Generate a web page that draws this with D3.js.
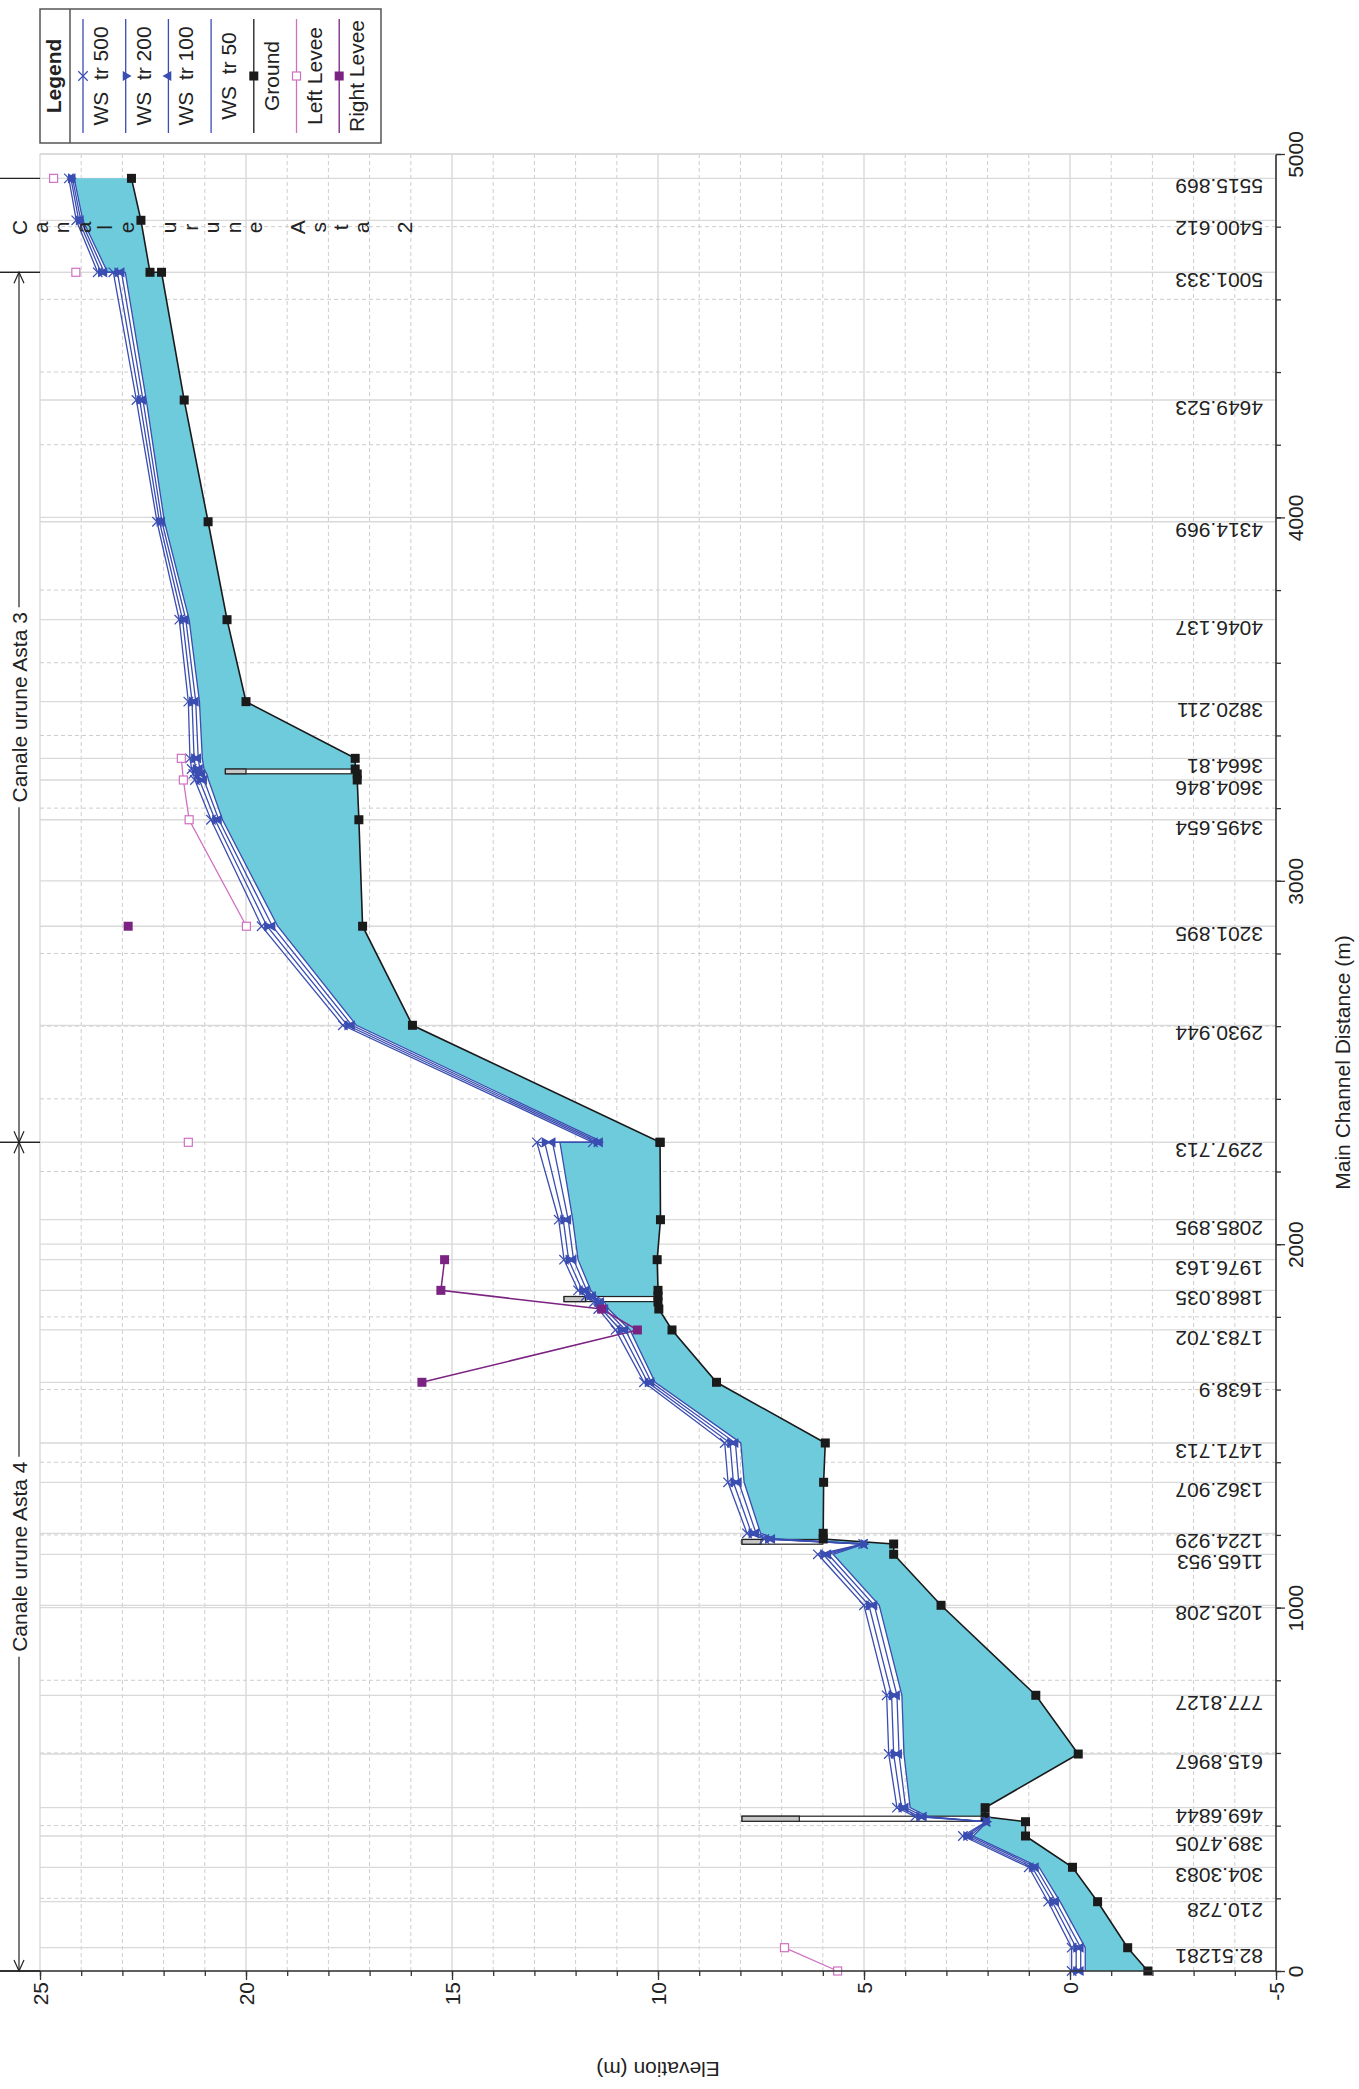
<!DOCTYPE html>
<html><head><meta charset="utf-8">
<script src="https://cdn.jsdelivr.net/npm/d3@7"></script>
<style>
body{margin:0;background:#fff}
svg{display:block}
text{font-family:"Liberation Sans",Arial,Helvetica,sans-serif;fill:#222}
</style>
</head><body>
<svg id="c" width="1359" height="2089"></svg>
<script>
// ---------------- DATA ----------------
// cross sections, upstream (top) to downstream (bottom); "br" = bridge internal section
const xsStation = ["5515.869","5400.612","5001.333","5001.333","4649.523","4314.969","4046.137","3820.211","3664.81","","","3604.846","3495.654","3201.895","2930.944","2297.713","2297.713","2085.895","1976.163","1868.035","","","","1783.702","1638.9","1471.713","1362.907","1224.929","","","1165.953","1025.208","777.8127","615.8967","469.6844","","","389.4705","304.3083","210.728","82.51281",""];
const xsKind = ["xs","xs","xs","xs","xs","xs","xs","xs","xs","br","br","xs","xs","xs","xs","xs","xs","xs","xs","xs","br","br","xs","xs","xs","xs","xs","xs","br","br","xs","xs","xs","xs","xs","br","br","xs","xs","xs","xs","xs"];
const xsDist = [4933,4817.6,4674.5,4674.5,4323,3988,3718.5,3493,3337,3307.6,3294,3277.4,3168,2875,2602.4,2280.4,2280.4,2067.4,1957.4,1873,1857.5,1841,1821.7,1764,1620,1453,1344.8,1204.5,1188.8,1175,1146.7,1006.3,758.7,597.1,449.4,424.6,410.8,371.5,285.4,190.7,64.1,0];
const ground = [22.78,22.55,22.33,22.05,21.5,20.92,20.46,20.0,17.35,17.35,17.3,17.3,17.26,17.17,15.96,9.95,9.95,9.94,10.02,10.0,10.0,10.0,9.98,9.66,8.58,5.94,5.98,5.99,5.99,4.28,4.28,3.13,0.83,-0.2,2.06,2.06,1.08,1.08,-0.06,-0.67,-1.4,-1.89];
const ws500 = [24.30,24.12,23.60,23.22,22.66,22.16,21.62,21.40,21.36,21.32,21.28,21.24,20.85,19.62,17.65,11.58,12.94,12.41,12.28,11.94,11.75,11.55,11.45,11.03,10.34,8.38,8.30,7.84,7.42,5.02,6.12,5.00,4.45,4.40,4.20,3.76,2.04,2.60,1.00,0.53,-0.04,-0.04];
const ws200 = [24.25,24.06,23.52,23.12,22.58,22.10,21.54,21.31,21.26,21.22,21.17,21.13,20.75,19.49,17.54,11.49,12.75,12.30,12.17,11.84,11.67,11.47,11.37,10.91,10.25,8.25,8.17,7.73,7.33,5.01,5.99,4.88,4.33,4.28,4.09,3.66,2.03,2.52,0.92,0.43,-0.15,-0.15];
const ws100 = [24.21,24.01,23.44,23.02,22.50,22.04,21.46,21.22,21.16,21.12,21.06,21.02,20.66,19.36,17.43,11.41,12.56,12.18,12.05,11.73,11.58,11.38,11.28,10.79,10.16,8.12,8.04,7.62,7.23,5.00,5.87,4.75,4.20,4.15,3.99,3.55,2.02,2.43,0.83,0.34,-0.26,-0.26];
const ws50  = [24.17,23.96,23.36,22.93,22.42,21.98,21.38,21.13,21.06,21.02,20.95,20.91,20.57,19.23,17.32,11.33,12.38,12.07,11.94,11.63,11.50,11.30,11.20,10.68,10.07,7.99,7.91,7.51,7.14,4.99,5.75,4.63,4.08,4.03,3.88,3.45,2.01,2.35,0.75,0.24,-0.37,-0.37];
const leftLevee  = [24.67,null,24.13,null,null,null,null,null,21.57,null,null,21.52,21.38,19.99,null,null,21.4,null,null,null,null,null,null,null,null,null,null,null,null,null,null,null,null,null,null,null,null,null,null,null,6.93,5.64];
const rightLevee = [null,null,null,null,null,null,null,null,null,null,null,null,null,22.86,null,null,null,null,15.18,15.27,null,null,11.37,10.5,15.73,null,null,null,null,null,null,null,null,null,null,null,null,null,null,null,null,null];
// bridges
const bridgeDist   = [3301,1849,1181,419];
const bridgeWidth  = [13,14,13,14];
const bridgeHigh   = [20.5,12.28,7.96,7.96];
const bridgeLow    = [20.0,11.76,7.5,6.57];
const bridgeGround = [17.35,9.98,6.0,2.06];
// reaches
const reachNames  = ["Canale urune Asta 2","Canale urune Asta 3","Canale urune Asta 4"];
const reachTop    = [4933,4674.5,2280.4];
const reachBottom = [4674.5,2280.4,0];
// axes
const elevTicks = [25,20,15,10,5,0,-5];
const distTicks = [0,1000,2000,3000,4000,5000];
// legend
const legendNames = ["WS  tr 500","WS  tr 200","WS  tr 100","WS  tr 50","Ground","Left Levee","Right Levee"];

// ---------------- LAYOUT ----------------
const svg = d3.select("#c");
const L = 40, R = 1276, T = 154, B = 1971;
const xS = d3.scaleLinear().domain([25,-5]).range([L,R]);
const yS = d3.scaleLinear().domain([0,5000]).range([B,T]);
const WS_COL = "#3a4db1", FILL = "#6dcbdc", GRID = "#d9d9d9", DASH = "#cdcdcd";
const LL_COL = "#d070c2", RL_COL = "#7b2382";

const n = xsDist.length;
const idx = d3.range(n);

// grid
const g = svg.append("g");
d3.range(-5,26,1).forEach(e=>{
  g.append("line").attr("x1",xS(e)).attr("x2",xS(e)).attr("y1",T).attr("y2",B)
   .attr("stroke", e%5===0 ? GRID : DASH).attr("stroke-width", e%5===0?1.4:1)
   .attr("stroke-dasharray", e%5===0 ? null : "4,3");
});
d3.range(0,5001,200).forEach(d=>{
  g.append("line").attr("x1",L).attr("x2",R).attr("y1",yS(d)).attr("y2",yS(d))
   .attr("stroke", d%1000===0 ? GRID : DASH).attr("stroke-width", d%1000===0?1.3:1)
   .attr("stroke-dasharray", d%1000===0 ? null : "4,3");
});
// station lines
idx.filter(i=>xsStation[i]!=="" ).forEach(i=>{
  g.append("line").attr("x1",L).attr("x2",R).attr("y1",yS(xsDist[i])).attr("y2",yS(xsDist[i]))
   .attr("stroke",GRID).attr("stroke-width",1.3);
});

// water fill
const area = d3.area().y(i=>yS(xsDist[i])).x0(i=>xS(ground[i])).x1(i=>xS(ws50[i]));
svg.append("path").datum(idx).attr("d",area).attr("fill",FILL);

// bridges
bridgeDist.forEach((d,k)=>{
  const y0 = yS(d + bridgeWidth[k]/2), y1 = yS(d - bridgeWidth[k]/2);
  svg.append("rect").attr("x",xS(bridgeHigh[k])).attr("y",y0)
    .attr("width",xS(bridgeGround[k])-xS(bridgeHigh[k])).attr("height",y1-y0)
    .attr("fill","#fff").attr("stroke","#222").attr("stroke-width",1.2);
  svg.append("rect").attr("x",xS(bridgeHigh[k])).attr("y",y0)
    .attr("width",xS(bridgeLow[k])-xS(bridgeHigh[k])).attr("height",y1-y0)
    .attr("fill","#c8c8c8").attr("stroke","#222").attr("stroke-width",1.2);
});

// lines
const lineOf = arr => d3.line().x(i=>xS(arr[i])).y(i=>yS(xsDist[i]));
[ws50,ws100,ws200,ws500].forEach(arr=>{
  svg.append("path").datum(idx).attr("d",lineOf(arr)).attr("fill","none")
    .attr("stroke",WS_COL).attr("stroke-width",1.3);
});
svg.append("path").datum(idx).attr("d",lineOf(ground)).attr("fill","none")
  .attr("stroke","#1a1a1a").attr("stroke-width",1.6);

// levees
const xsOnly = idx.filter(i=>xsKind[i]==="xs");
const levLine = arr => d3.line().defined(i=>arr[i]!==null).x(i=>xS(arr[i])).y(i=>yS(xsDist[i]));
svg.append("path").datum(xsOnly).attr("d",levLine(leftLevee)).attr("fill","none").attr("stroke",LL_COL).attr("stroke-width",1.3);
svg.append("path").datum(xsOnly).attr("d",levLine(rightLevee)).attr("fill","none").attr("stroke",RL_COL).attr("stroke-width",1.5);

// markers
const symX = d3.symbol().type(d3.symbolTimes).size(60);
const symT = d3.symbol().type(d3.symbolTriangle).size(45);
const mk = svg.append("g");
idx.forEach(i=>{
  const y = yS(xsDist[i]);
  mk.append("path").attr("d",symT()).attr("transform",`translate(${xS(ws100[i])},${y}) rotate(-90)`).attr("fill",WS_COL);
  mk.append("path").attr("d",symT()).attr("transform",`translate(${xS(ws200[i])},${y}) rotate(90)`).attr("fill",WS_COL);
  mk.append("path").attr("d",symX()).attr("transform",`translate(${xS(ws500[i])},${y})`).attr("fill","none").attr("stroke",WS_COL).attr("stroke-width",1.2);
  mk.append("rect").attr("x",xS(ground[i])-4.5).attr("y",y-4.5).attr("width",9).attr("height",9).attr("fill","#1a1a1a");
});
xsOnly.forEach(i=>{
  const y = yS(xsDist[i]);
  if(leftLevee[i]!==null) mk.append("rect").attr("x",xS(leftLevee[i])-4).attr("y",y-4).attr("width",8).attr("height",8).attr("fill","#fff").attr("stroke",LL_COL).attr("stroke-width",1.2);
  if(rightLevee[i]!==null) mk.append("rect").attr("x",xS(rightLevee[i])-4.5).attr("y",y-4.5).attr("width",9).attr("height",9).attr("fill",RL_COL);
});

// station labels
idx.filter(i=>xsStation[i]!=="" && !(i>0 && xsStation[i]===xsStation[i-1])).forEach(i=>{
  svg.append("text").attr("transform",`translate(1263,${yS(xsDist[i])+1}) rotate(180)`)
    .attr("text-anchor","start").attr("font-size",21).text(xsStation[i]);
});

// axes
const fmt = d => String(d);
const axD = svg.append("g").attr("transform",`translate(${R},0)`)
  .call(d3.axisRight(yS).tickValues(d3.range(0,5001,200)).tickSize(5).tickFormat(""));
const axDM = svg.append("g").attr("transform",`translate(${R},0)`)
  .call(d3.axisRight(yS).tickValues(distTicks).tickSize(9).tickFormat(fmt));
axDM.selectAll("text").attr("transform","rotate(-90)").attr("x",0).attr("y",27).attr("dy",0)
  .attr("text-anchor","middle").attr("font-size",21).attr("font-family",null);
const axE = svg.append("g").attr("transform",`translate(0,${B})`)
  .call(d3.axisBottom(xS).tickValues(d3.range(-5,26,1)).tickSize(5).tickFormat(""));
const axEM = svg.append("g").attr("transform",`translate(0,${B})`)
  .call(d3.axisBottom(xS).tickValues(elevTicks).tickSize(9).tickFormat(fmt));
axEM.selectAll("text").attr("transform","rotate(-90)").attr("x",-11).attr("y",7.5).attr("dy",0)
  .attr("text-anchor","end").attr("font-size",21).attr("font-family",null);
[axD,axDM,axE,axEM].forEach(a=>{
  a.selectAll(".tick line").attr("stroke","#333").attr("stroke-width",1.3);
  a.selectAll("text").style("fill","#222");
  a.select(".domain").remove();
});
svg.append("line").attr("x1",R).attr("x2",R).attr("y1",T).attr("y2",B).attr("stroke","#333").attr("stroke-width",1.6);
svg.append("line").attr("x1",0).attr("x2",R).attr("y1",B).attr("y2",B).attr("stroke","#333").attr("stroke-width",1.6);
svg.append("line").attr("x1",L).attr("x2",R).attr("y1",T).attr("y2",T).attr("stroke",GRID).attr("stroke-width",1.4);

// axis titles
svg.append("text").attr("transform",`translate(${(L+R)/2},2062) rotate(180)`).attr("text-anchor","middle").attr("font-size",21).text("Elevation (m)");
svg.append("text").attr("transform",`translate(1350,${(T+B)/2}) rotate(-90)`).attr("text-anchor","middle").attr("font-size",21).text("Main Channel Distance (m)");

// reach annotations
const RX = 19;
const arrow = (y,dir)=>{ // dir: -1 up, +1 down (tip at y)
  svg.append("path").attr("d",`M${RX-5},${y-dir*11} L${RX},${y} L${RX+5},${y-dir*11}`)
    .attr("fill","none").attr("stroke","#222").attr("stroke-width",1.2);
};
reachNames.forEach((name,k)=>{
  const yt = yS(reachTop[k]), yb = yS(reachBottom[k]);
  svg.append("line").attr("x1",0).attr("x2",L).attr("y1",yt).attr("y2",yt).attr("stroke","#222").attr("stroke-width",1.3);
  svg.append("line").attr("x1",0).attr("x2",L).attr("y1",yb).attr("y2",yb).attr("stroke","#222").attr("stroke-width",1.3);
  const ym = (yt+yb)/2;
  if (yb-yt > 260) {
    const half = 100;
    svg.append("line").attr("x1",RX).attr("x2",RX).attr("y1",yt).attr("y2",ym-half).attr("stroke","#222").attr("stroke-width",1.2);
    svg.append("line").attr("x1",RX).attr("x2",RX).attr("y1",ym+half).attr("y2",yb).attr("stroke","#222").attr("stroke-width",1.2);
    arrow(yt,-1); arrow(yb,1);
    svg.append("text").attr("transform",`translate(${RX+7.5},${ym}) rotate(-90)`).attr("text-anchor","middle").attr("font-size",21).text(name);
  } else {
    name.split("").forEach((ch,j)=>{
      if(ch===" ") return;
      svg.append("text").attr("transform",`translate(${RX+7.5+j*21.4},${ym+2}) rotate(-90)`).attr("text-anchor","middle").attr("font-size",21).text(ch);
    });
  }
});

// legend
const lg = svg.append("g");
lg.append("rect").attr("x",40).attr("y",9).attr("width",341).attr("height",134).attr("fill","#fff").attr("stroke","#555").attr("stroke-width",1.5);
lg.append("line").attr("x1",70).attr("x2",70).attr("y1",9).attr("y2",143).attr("stroke","#555").attr("stroke-width",1.5);
lg.append("text").attr("transform","translate(61,76) rotate(-90)").attr("text-anchor","middle").attr("font-size",21).attr("font-weight","bold").text("Legend");
const legCols = [WS_COL,WS_COL,WS_COL,WS_COL,"#1a1a1a",LL_COL,RL_COL];
legendNames.forEach((nm,k)=>{
  const x = 83 + k*42.7;
  lg.append("line").attr("x1",x).attr("x2",x).attr("y1",19).attr("y2",133).attr("stroke",legCols[k]).attr("stroke-width",1.3);
  if(k===0) lg.append("path").attr("d",symX()).attr("transform",`translate(${x},76)`).attr("fill","none").attr("stroke",WS_COL).attr("stroke-width",1.2);
  if(k===1) lg.append("path").attr("d",symT()).attr("transform",`translate(${x},76) rotate(90)`).attr("fill",WS_COL);
  if(k===2) lg.append("path").attr("d",symT()).attr("transform",`translate(${x},76) rotate(-90)`).attr("fill",WS_COL);
  if(k===4) lg.append("rect").attr("x",x-4.5).attr("y",71.5).attr("width",9).attr("height",9).attr("fill","#1a1a1a");
  if(k===5) lg.append("rect").attr("x",x-4).attr("y",72).attr("width",8).attr("height",8).attr("fill","#fff").attr("stroke",LL_COL).attr("stroke-width",1.2);
  if(k===6) lg.append("rect").attr("x",x-4.5).attr("y",71.5).attr("width",9).attr("height",9).attr("fill",RL_COL);
  lg.append("text").attr("transform",`translate(${x+25},76) rotate(-90)`).attr("text-anchor","middle").attr("font-size",21).style("white-space","pre").text(nm);
});
</script>
</body></html>
